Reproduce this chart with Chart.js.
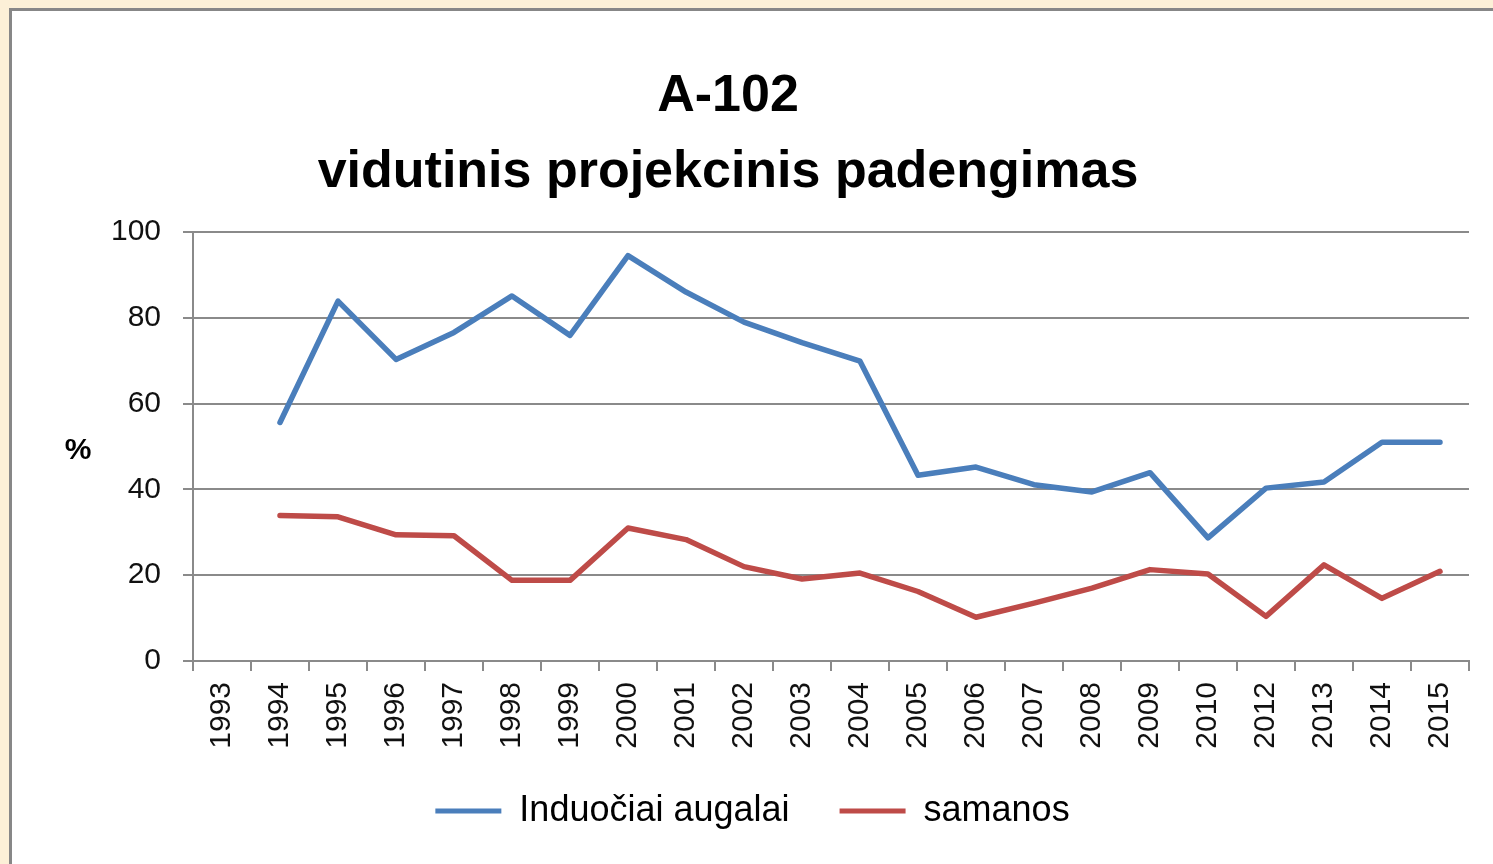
<!DOCTYPE html>
<html><head><meta charset="utf-8">
<script src="https://cdn.jsdelivr.net/npm/chart.js@4.4.1/dist/chart.umd.min.js"></script>
<style>
html,body{margin:0;padding:0;width:1493px;height:864px;overflow:hidden;background:#fcf0d7;}
#frame{position:absolute;left:9px;top:8px;width:1484px;height:856px;border-left:3px solid #878787;border-top:3px solid #878787;background:#fff;}
#wrap{position:absolute;left:12px;top:11px;width:1481px;height:853px;}
</style></head><body>
<div id="frame"></div>
<div id="wrap"><canvas id="c"></canvas></div>
<script>
const titleLines = ['A-102', 'vidutinis projekcinis padengimas'];
const yAxisLabel = '%';
const years = ['1993','1994','1995','1996','1997','1998','1999','2000','2001','2002','2003','2004','2005','2006','2007','2008','2009','2010','2012','2013','2014','2015'];
const yTicks = [0, 20, 40, 60, 80, 100];
const seriesNames = ['Induočiai augalai', 'samanos'];
const induociaiAugalai = [null, 55.6, 83.9, 70.3, 76.6, 85.1, 75.9, 94.5, 86.0, 79.0, 74.2, 69.9, 43.3, 45.2, 41.1, 39.4, 43.9, 28.7, 40.3, 41.7, 51.0, 51.0];
const samanos = [null, 33.9, 33.6, 29.4, 29.2, 18.8, 18.8, 31.0, 28.3, 22.0, 19.1, 20.5, 16.2, 10.2, 13.5, 17.0, 21.3, 20.3, 10.4, 22.4, 14.6, 20.9];
const seriesColors = ['#4a7ebb', '#be4b48'];

const FONT = '"Liberation Sans", Arial, sans-serif';
const GRID = '#8a8a8a';

const headerPlugin = {
  id: 'header',
  afterDraw(chart) {
    const ctx = chart.ctx, a = chart.chartArea;
    ctx.save();
    ctx.fillStyle = '#000';
    ctx.textAlign = 'center';
    ctx.textBaseline = 'alphabetic';
    ctx.font = 'bold 52px ' + FONT;
    ctx.fillText(titleLines[0], 716, 100);
    ctx.fillText(titleLines[1], 716, 176);
    ctx.font = 'bold 30px ' + FONT;
    ctx.textBaseline = 'middle';
    ctx.fillText(yAxisLabel, 66, (a.top + a.bottom) / 2 + 4);
    ctx.restore();
  }
};

new Chart(document.getElementById('c'), {
  type: 'line',
  data: {
    labels: years,
    datasets: [
      { label: seriesNames[0], data: induociaiAugalai, borderColor: seriesColors[0], backgroundColor: seriesColors[0] },
      { label: seriesNames[1], data: samanos, borderColor: seriesColors[1], backgroundColor: seriesColors[1] }
    ]
  },
  options: {
    responsive: true,
    maintainAspectRatio: false,
    animation: false,
    devicePixelRatio: 1,
    layout: { padding: { top: 221, left: 0, right: 0, bottom: 25 } },
    elements: {
      line: { borderWidth: 5.5, tension: 0, borderCapStyle: 'round', borderJoinStyle: 'round', fill: false },
      point: { radius: 0, hoverRadius: 0 }
    },
    plugins: {
      title: { display: false },
      tooltip: { enabled: false },
      legend: {
        display: true,
        position: 'bottom',
        labels: {
          boxWidth: 66,
          boxHeight: 5,
          padding: 50,
          color: '#000',
          font: { size: 36, family: FONT },
          generateLabels(chart) {
            const items = Chart.defaults.plugins.legend.labels.generateLabels(chart);
            items.forEach(it => { it.fillStyle = it.strokeStyle; it.lineWidth = 0; });
            return items;
          }
        }
      }
    },
    scales: {
      x: {
        type: 'category',
        offset: true,
        grid: { offset: true, drawOnChartArea: false, drawTicks: true, tickLength: 10, color: GRID, lineWidth: 2 },
        border: { display: true, color: GRID, width: 2 },
        ticks: { minRotation: 90, maxRotation: 90, autoSkip: false, padding: 11, color: '#111', font: { size: 30, family: FONT } },
        afterFit(s) { s.height = 82; s._computeLabelArea = () => undefined; }
      },
      y: {
        type: 'linear',
        position: 'left',
        min: 0, max: 100,
        afterBuildTicks(s) { s.ticks = yTicks.map(v => ({ value: v })); },
        grid: { color: GRID, lineWidth: 2, tickLength: 10, drawTicks: true },
        border: { display: true, color: GRID, width: 2 },
        ticks: { padding: 22, color: '#111', font: { size: 30, family: FONT } },
        afterFit(s) { s.width = 181; }
      },
      yRight: {
        type: 'linear',
        position: 'right',
        display: true,
        grid: { display: false },
        ticks: { display: false },
        border: { display: false },
        afterFit(s) { s.width = 24; }
      }
    }
  },
  plugins: [headerPlugin]
});
</script>
</body></html>
